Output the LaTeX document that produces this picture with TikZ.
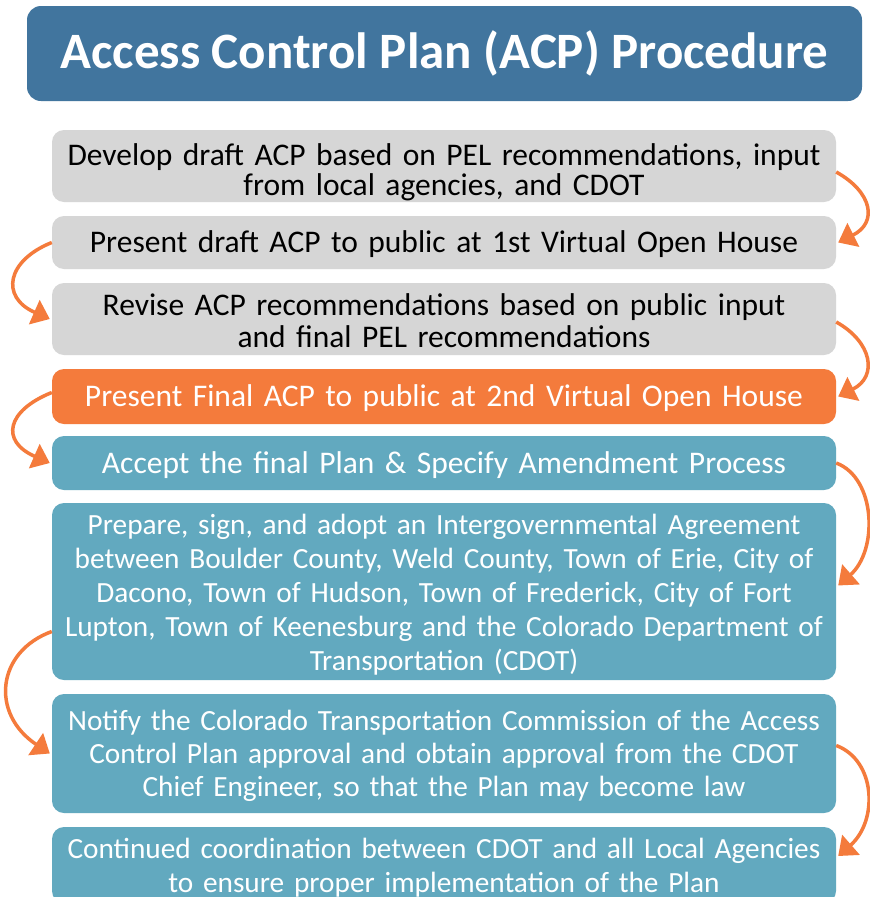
\documentclass[tikz,border=0pt]{standalone}
\usepackage{fontspec}
\setmainfont{Carlito}
\usetikzlibrary{arrows.meta,positioning}
\definecolor{acpblue}{HTML}{41759E}
\definecolor{acpgray}{HTML}{D6D6D6}
\definecolor{acporange}{HTML}{F47B3C}
\definecolor{acpteal}{HTML}{62A9BF}
\tikzset{
  stepbox/.style={rounded corners=12pt, minimum width=784pt, text width=780pt,
    align=center, inner sep=0pt, text height=26pt, font=\fontsize{31.5}{33}\selectfont},
  smallstep/.style={font=\fontsize{29.3}{34}\selectfont},
  graybox/.style={stepbox, fill=acpgray, text=black},
  orangebox/.style={stepbox, fill=acporange, text=white},
  tealbox/.style={stepbox, fill=acpteal, text=white},
  loopback/.style={acporange, line width=3.5pt, -{Triangle[length=17pt,width=26pt]}}
}

\begin{document}
\begin{tikzpicture}[x=1pt,y=-1pt]
\clip (0,0) rectangle (870,897);
\fill[white] (0,0) rectangle (870,897);

% Title banner
\node[fill=acpblue, rounded corners=14pt, minimum width=835pt, minimum height=95pt,
  text=white, font=\fontsize{51}{55}\selectfont\bfseries] (title) at (444.5,53.5)
  {Access Control Plan (ACP) Procedure};

% Steps
\node[graybox, minimum height=72pt, text height=35pt, font=\fontsize{31.5}{30}\selectfont] (develop) at (444,166)
  {Develop draft ACP based on PEL recommendations, input\\from local agencies, and CDOT};
\node[graybox, minimum height=53pt] (present) at (444,242.5)
  {Present draft ACP to public at 1st Virtual Open House};
\node[graybox, minimum height=72pt, font=\fontsize{31.5}{32}\selectfont] (revise) at (444,319)
  {Revise ACP recommendations based on public input\\and final PEL recommendations};
\node[orangebox, minimum height=55pt] (final) at (444,396.5)
  {Present Final ACP to public at 2nd Virtual Open House};
\node[tealbox, minimum height=54pt] (accept) at (444,463)
  {Accept the final Plan \& Specify Amendment Process};
\node[tealbox, smallstep, minimum height=177pt] (prepare) at (444,591.5)
  {Prepare, sign, and adopt an Intergovernmental Agreement\\
   between Boulder County, Weld County, Town of Erie, City of\\
   Dacono, Town of Hudson, Town of Frederick, City of Fort\\
   Lupton, Town of Keenesburg and the Colorado Department of\\
   Transportation (CDOT)};
\node[tealbox, smallstep, minimum height=119pt, font=\fontsize{29.3}{33}\selectfont] (notify) at (444,753.5)
  {Notify the Colorado Transportation Commission of the Access\\
   Control Plan approval and obtain approval from the CDOT\\
   Chief Engineer, so that the Plan may become law};
\node[tealbox, smallstep, minimum height=76pt] (continued) at (444,865)
  {Continued coordination between CDOT and all Local Agencies\\
   to ensure proper implementation of the Plan};

% Arrows between steps, alternating sides
\draw[loopback] ([yshift=-6pt]develop.east) .. controls +(36,20) and +(40,-20) .. ([xshift=2pt]present.east);
\draw[loopback] (present.west) .. controls +(-45,18) and +(-50,-22) .. ([xshift=-2pt]revise.west);
\draw[loopback] ([yshift=-3pt]revise.east) .. controls +(36,20) and +(40,-20) .. ([xshift=2pt]final.east);
\draw[loopback] ([yshift=4pt]final.west) .. controls +(-45,18) and +(-50,-22) .. ([xshift=-2pt]accept.west);
\draw[loopback] (accept.east) .. controls +(40,15) and +(40,-35) .. ([xshift=2pt,yshift=6pt]prepare.east);
\draw[loopback] ([yshift=-40pt]prepare.west) .. controls +(-55,20) and +(-60,-40) .. ([xshift=-2pt]notify.west);
\draw[loopback] ([yshift=8pt]notify.east) .. controls +(40,15) and +(40,-35) .. ([xshift=2pt,yshift=9pt]continued.east);
\end{tikzpicture}
\end{document}
